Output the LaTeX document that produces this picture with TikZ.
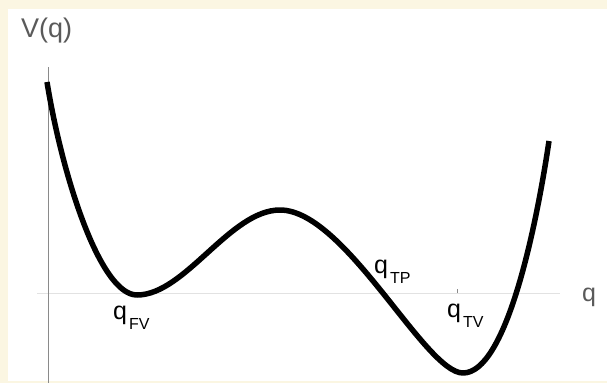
\documentclass[tikz,border=0pt]{standalone}
\usepackage{fontspec}
\setmainfont{Liberation Sans}
\definecolor{cream}{HTML}{FBF6E2}
\definecolor{axisgray}{HTML}{8A8A8A}
\definecolor{lightaxis}{HTML}{E2E2E2}
\definecolor{labelgray}{HTML}{5A5A5A}
\tikzset{
  curve/.style={line width=5.5pt, line join=round, line cap=butt, black},
  lbl/.style={inner sep=0pt, anchor=base west, font=\fontsize{25}{25}\selectfont},
  graylbl/.style={lbl, text=labelgray},
}
\newcommand{\qsub}[1]{q\kern2pt\raisebox{-10pt}{\fontsize{16}{16}\selectfont #1}}
\begin{document}
\begin{tikzpicture}[x=1pt,y=-1pt]
\useasboundingbox (0,0) rectangle (607,383);
\fill[cream] (0,0) rectangle (607,383);
\fill[white] (8,9) rectangle (607,381);
% axes
\coordinate (ytop) at (48,67);
\coordinate (ybot) at (48,383);
\coordinate (xl) at (37,293);
\coordinate (xr) at (560,293);
\coordinate (tk) at (457,293);
\coordinate (tkt) at (457,289);
\draw[lightaxis, line width=0.8pt] (xl) -- (xr);
\draw[axisgray, line width=0.8pt] (ytop) -- (ybot);
\draw[axisgray, line width=0.6pt] (tk) -- (tkt);
% potential curve
\coordinate (p0) at (47,82);
\coordinate (fv) at (137,295);
\coordinate (bar) at (280,210);
\coordinate (tv) at (463,373);
\coordinate (p5) at (549,141);
\draw[curve] (p0) .. controls (62,175) and (100,295) .. (fv)
  .. controls (185,295) and (230,210) .. (bar)
  .. controls (345,210) and (425,373) .. (tv)
  .. controls (505,373) and (535,235) .. (p5);
% labels
\node[graylbl] (vq) at (21,37) {\fontsize{27}{27}\selectfont V(q)};
\node[graylbl] (qax) at (582,301) {q};
\node[lbl] (qfv) at (113,319) {\qsub{FV}};
\node[lbl] (qtp) at (374,273) {\qsub{TP}};
\node[lbl] (qtv) at (447,317) {\qsub{TV}};
\end{tikzpicture}
\end{document}
